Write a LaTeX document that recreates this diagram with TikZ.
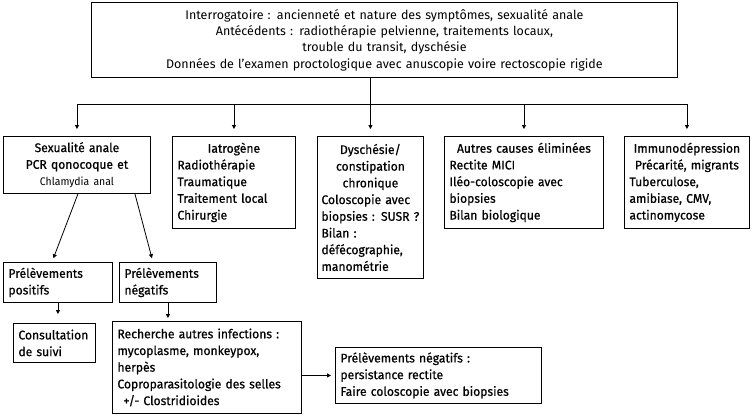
\documentclass[tikz,border=0pt]{standalone}
\usepackage{fontspec}
\setmainfont{Fira Sans}
\newfontfamily\medfont{Fira Sans}[FakeBold=0.6, FakeStretch=0.97]
\newfontfamily\thinfont{Fira Sans}[FakeStretch=0.95]
\usetikzlibrary{arrows.meta, positioning}
\newcommand{\ctr}[1]{\makebox[\linewidth][c]{#1}}

\begin{document}
\begin{tikzpicture}[
        x=1pt, y=-1pt,
        >={Triangle[length=4pt, width=4pt]},
        box/.style={draw, line width=0.9pt, anchor=north west, align=left,
            inner xsep=5pt, inner ysep=2pt, font=\medfont\fontsize{12.5}{16.7}\selectfont},
        e/.style={->, line width=0.8pt}
    ]
        \useasboundingbox (0,0) rectangle (754,416);

        \node[box, align=center, text width=576pt, minimum height=75pt,
            font=\rmfamily\fontsize{12.5}{16.3}\selectfont] (top) at (91,2)
            {Interrogatoire : ancienneté et nature des symptômes, sexualité anale\\
             Antécédents : radiothérapie pelvienne, traitements locaux,\\
             trouble du transit, dyschésie\\
             Données de l'examen proctologique avec anuscopie voire rectoscopie rigide};

        % premier niveau
        \node[box, align=center, text width=137pt, minimum height=57pt] (sex) at (3,136)
            {Sexualité anale\\ PCR qonocoque et\\ {\thinfont\fontsize{11}{14}\selectfont Chlamydia anal}};
        \node[box, text width=113pt, minimum height=92pt] (iat) at (172,136)
            {\ctr{Iatrogène}\\ Radiothérapie\\ Traumatique\\ Traitement local\\ Chirurgie};
        \node[box, text width=98pt, inner xsep=4pt, minimum height=142pt] (dys) at (317,136)
            {\ctr{Dyschésie/}\\ \ctr{constipation}\\ \ctr{chronique}\\ Coloscopie avec\\
             \mbox{biopsies : SUSR ?}\\ Bilan :\\ défécographie,\\ manométrie};
        \node[box, text width=149pt, minimum height=92pt] (aut) at (444,136)
            {\ctr{Autres causes éliminées}\\ Rectite MICI\\ Iléo-coloscopie avec\\ biopsies\\ Bilan biologique};
        \node[box, text width=115pt, minimum height=92pt] (imm) at (624,136)
            {\ctr{Immunodépression}\\ \ctr{Précarité, migrants}\\ Tuberculose,\\ amibiase, CMV,\\ actinomycose};

        % prélèvements
        \node[box, text width=99pt, minimum height=40pt] (pos) at (3,262) {Prélèvements\\ positifs};
        \node[box, text width=87pt, minimum height=40pt] (neg) at (119,262) {Prélèvements\\ négatifs};
        \node[box, text width=72pt, minimum height=39pt] (cons) at (13,323) {Consultation\\ de suivi};
        \node[box, text width=179pt, minimum height=92pt] (rech) at (112,321)
            {Recherche autres infections :\\ mycoplasme, monkeypox,\\ herpès\\
             Coproparasitologie des selles\\ \hspace*{6pt}+/- Clostridioides};
        \node[box, text width=196pt, minimum height=56pt] (fin) at (335,347)
            {Prélèvements négatifs :\\ persistance rectite\\ Faire coloscopie avec biopsies};

        \coordinate (bar) at (0,104);
        \draw[line width=0.8pt] (sex.north |- bar) -- (imm.north |- bar);
        \draw[e, shorten >=7pt] (top.south -| dys.north) -- (dys.north);
        \foreach \n in {sex, iat, aut, imm}
            \draw[e, shorten >=7pt] (\n.north |- bar) -- (\n.north);

        \draw[e, shorten >=4pt] ([xshift=1pt]sex.south) -- ([xshift=-6pt]pos.north);
        \draw[e, shorten >=4pt] ([xshift=58pt]sex.south) -- ([xshift=-15pt]neg.north);
        \draw[e, shorten >=9pt] (pos.south) -- (pos.south |- cons.north);
        \draw[e, shorten >=3pt] (neg.south) -- (neg.south |- rech.north);
        \draw[e, shorten >=4pt] (fin.west -| rech.east) -- (fin.west);
    \end{tikzpicture}
\end{document}
